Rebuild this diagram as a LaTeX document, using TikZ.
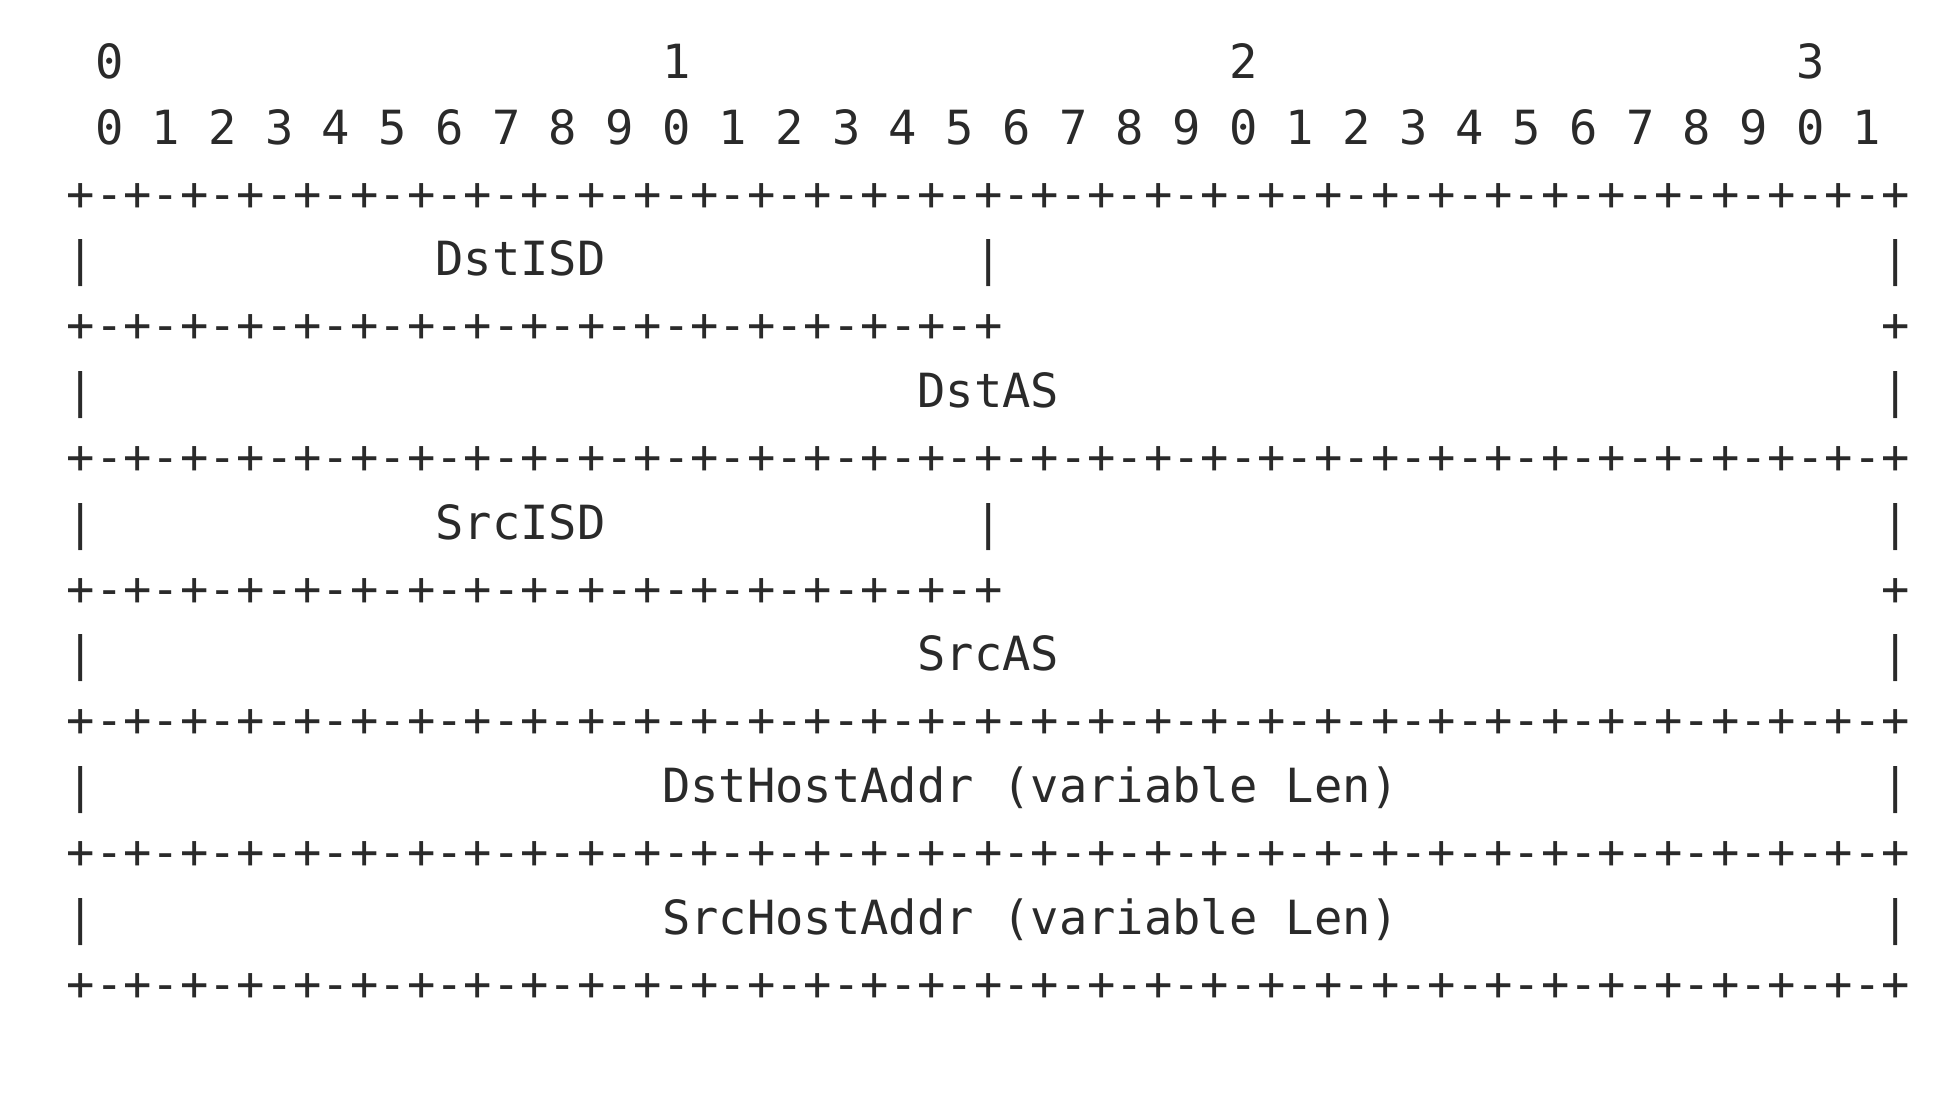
\documentclass[tikz,border=0pt]{standalone}
\usepackage{fontspec}
\usepackage{tikz}

\newfontfamily\asciifont{DejaVu Sans Mono}
\definecolor{inkgray}{RGB}{42,42,42}

% full and half separator lines of the header
\newcommand{\fullrule}{+-+-+-+-+-+-+-+-+-+-+-+-+-+-+-+-+-+-+-+-+-+-+-+-+-+-+-+-+-+-+-+-+}
\newcommand{\halfrule}{+-+-+-+-+-+-+-+-+-+-+-+-+-+-+-+-+}

\tikzset{
  asc/.style={font=\asciifont\fontsize{13.40}{16}\selectfont, text=inkgray,
    inner sep=0pt, outer sep=0pt, anchor=base west},
}

\begin{document}
\begin{tikzpicture}[x=0.2835cm, y=-0.6583cm] % one unit = one character cell
	\useasboundingbox (-2.857,-1.191) rectangle (65.997,15.580);
	% Bit numbers
	\foreach \t in {0,...,3}
	\node[asc] (tens\t) at (20*\t+0.5,0) {\t};
	\foreach \b [evaluate=\b as \d using {int(mod(\b,10))}] in {0,...,31}
	\node[asc] (bit\b) at (2*\b+0.5,1) {\d};
	
	% Separator lines
	\foreach \r in {2,6,10,12,14}
	\node[asc] (rule\r) at (-0.5,\r) {\fullrule};
	\foreach \r in {4,8} {
	\node[asc] (half\r) at (-0.5,\r) {\halfrule};
	\node[asc] (end\r) at (63.5,\r) {+};
	}
	
	% Side bars
	\foreach \r in {3,5,7,9,11,13} {
	\node[asc] (left\r) at (-0.5,\r) {|};
	\node[asc] (right\r) at (63.5,\r) {|};
	}
	\foreach \r in {3,7}
	\node[asc] (mid\r) at (31.5,\r) {|};
	
	% Field names
	\node[asc] (dstisd) at (12.5,3) {DstISD};
	\node[asc] (dstas) at (29.5,5) {DstAS};
	\node[asc] (srcisd) at (12.5,7) {SrcISD};
	\node[asc] (srcas) at (29.5,9) {SrcAS};
	\node[asc] (dsthost) at (20.5,11) {DstHostAddr (variable Len)};
	\node[asc] (srchost) at (20.5,13) {SrcHostAddr (variable Len)};
\end{tikzpicture}
\end{document}
